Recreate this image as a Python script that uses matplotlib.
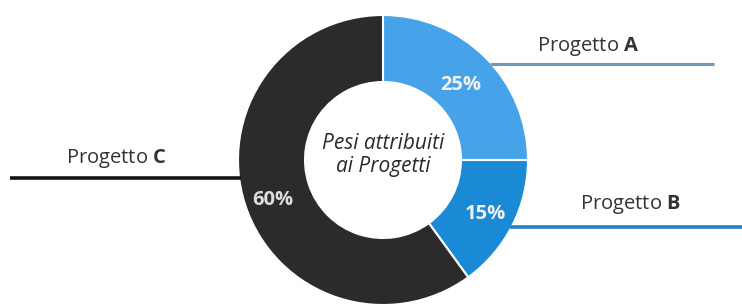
import numpy as np
import matplotlib
matplotlib.use("Agg")
import matplotlib.pyplot as plt

projects = ["A", "B", "C"]
weights = [25, 15, 60]
pct_labels = ["25%", "15%", "60%"]
center_title = "Pesi attribuiti\nai Progetti"

wedge_colors = ["#46a3ea", "#1b8ad6", "#2b2b2b"]
line_colors = ["#7199bd", "#2a7fbf", "#151515"]

plt.rcParams["font.family"] = ["Open Sans", "DejaVu Sans"]
plt.rcParams["mathtext.fontset"] = "custom"
plt.rcParams["mathtext.rm"] = "Open Sans"
plt.rcParams["mathtext.bf"] = "Open Sans:bold"

W, H = 742, 308
fig = plt.figure(figsize=(W / 100, H / 100), dpi=100)
ax = fig.add_axes([0, 0, 1, 1])

def Y(y):
    return H - y

cx, cy, R, ring = 383, 160, 145, 67
wedges, _ = ax.pie(weights, colors=wedge_colors, startangle=90, counterclock=False,
                   center=(cx, Y(cy)), radius=R, frame=True,
                   wedgeprops=dict(width=ring, edgecolor="white", linewidth=1.5))
ax.set_xlim(0, W)
ax.set_ylim(0, H)
ax.set_aspect("equal")
ax.axis("off")

# percentage labels (polar placement, angle in degrees, radius in px)
label_pos = [(44, 108), (-28, 116), (200, 117)]
pct_colors = ["#f0f0f0", "#f0f0f0", "#dcdcdc"]
for (ang, r), txt, c in zip(label_pos, pct_labels, pct_colors):
    a = np.deg2rad(ang)
    ax.text(cx + r * np.cos(a), Y(cy) + r * np.sin(a), txt, ha="center", va="center",
            fontsize=14.5, fontweight="bold", color=c)

ax.text(cx, Y(155), center_title, ha="center", va="center", fontsize=15,
        style="italic", color="#2a2a2a", linespacing=1.15)

def ring_x(y, side):
    dy = y - cy
    return cx + side * np.sqrt(R ** 2 - dy ** 2)

# leader lines and names: (line y, x start, x end, text x, text y, line width)
leaders = [
    (64, ring_x(64, 1) - 2, 714, 537, 46, 2.2),
    (227, ring_x(227, 1) - 2, 742, 580, 205, 2.6),
    (178, 10, ring_x(178, -1) + 2, 66, 159, 2.6),
]
for (ly, x0, x1, tx, ty, lw), p, lc in zip(leaders, projects, line_colors):
    ax.plot([x0, x1], [Y(ly), Y(ly)], color=lc, linewidth=lw, solid_capstyle="butt")
    ax.text(tx, Y(ty), r"Progetto $\mathbf{" + p + "}$", ha="left", va="center",
            fontsize=14.5, color="#333333")

fig.savefig("out.png", dpi=100, facecolor="white")
